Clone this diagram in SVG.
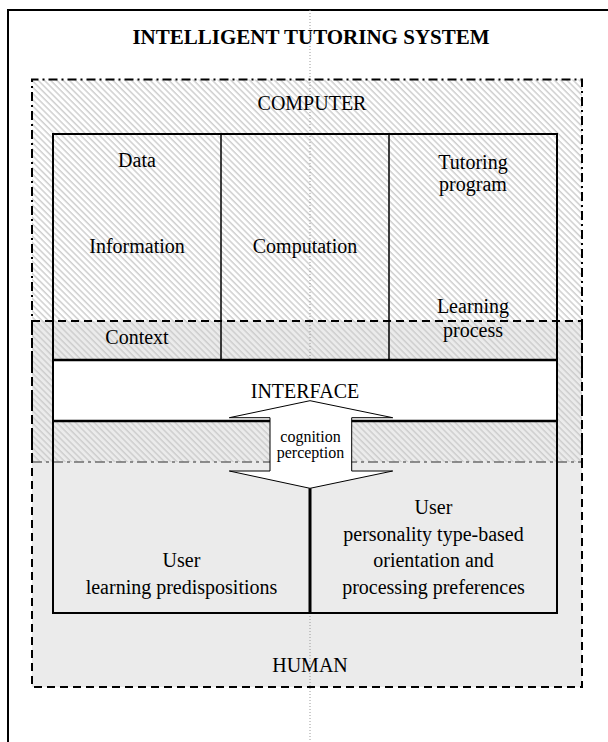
<svg xmlns="http://www.w3.org/2000/svg" width="608" height="742" viewBox="0 0 608 742">
<defs>
<pattern id="hatch" patternUnits="userSpaceOnUse" width="4.4" height="4.4" patternTransform="rotate(-45)">
<line x1="1" y1="0" x2="1" y2="4.4" stroke="#cccccc" stroke-width="1.4"/>
</pattern>
</defs>
<style>
text{font-family:"Liberation Serif","Times New Roman",serif;fill:#000;text-anchor:middle;}
.t20{font-size:20px;}
.t16{font-size:16px;}
.thick{stroke:#000;stroke-width:2;fill:none;}
.thin{stroke:#000;stroke-width:1.5;fill:none;}
.dashdot{stroke:#000;stroke-width:2;fill:none;stroke-dasharray:9 4 2 4;}
.dashed{stroke:#000;stroke-width:2;fill:none;stroke-dasharray:8 5;}
.graydd{stroke:#6e6e6e;stroke-width:1.5;fill:none;stroke-dasharray:10 4 3 4;}
.dotted{stroke:#9a9a9a;stroke-width:1;fill:none;stroke-dasharray:1 2;}
</style>
<rect x="0" y="0" width="608" height="742" fill="#fff"/>
<g id="frame">
<path d="M8,742 V10 H608" stroke="#000" stroke-width="2" fill="none"/>
<text x="311" y="44" style="font-size:21px;font-weight:bold">INTELLIGENT TUTORING SYSTEM</text>
</g>
<g id="human">
<rect x="32" y="321" width="550" height="366" fill="#ebebeb"/>
</g>
<g id="computer">
<rect x="32" y="79.5" width="550" height="382.5" fill="url(#hatch)"/>
</g>
<line class="dotted" x1="310" y1="10" x2="310" y2="742"/>
<g id="interface">
<rect x="53" y="360" width="504" height="61" fill="#fff"/>
</g>
<line class="graydd" x1="32" y1="462" x2="582" y2="462"/>
<g id="connectors">
<polygon points="310,400.7 392.7,417.7 351.7,417.7 351.7,471 392.7,471 310,488.3 229.3,471 270,471 270,417.7 229.3,417.7" fill="#fff" stroke="#000" stroke-width="1"/>
</g>
<g id="computer-border">
<path class="dashdot" d="M32,462 V79.5 H582 V462"/>
<text class="t20" x="312" y="110">COMPUTER</text>
</g>
<g id="human-border">
<path class="dashed" d="M32,321 H582 V687 H32 Z"/>
<text class="t20" x="310" y="672">HUMAN</text>
</g>
<g id="inner-box">
<path class="thick" d="M53,134 H557 V613 H53 Z"/>
<line x1="53" y1="360" x2="557" y2="360" stroke="#000" stroke-width="2.5"/>
<line x1="53" y1="421" x2="270" y2="421" stroke="#000" stroke-width="2.5"/>
<line x1="351.7" y1="421" x2="557" y2="421" stroke="#000" stroke-width="2.5"/>
</g>
<g id="data-column">
<line class="thin" x1="221" y1="134" x2="221" y2="360"/>
<text class="t20" x="137" y="167">Data</text>
<text class="t20" x="137" y="253">Information</text>
<text class="t20" x="137" y="343.5">Context</text>
</g>
<g id="computation">
<text class="t20" x="305" y="253">Computation</text>
</g>
<g id="tutoring-column">
<line class="thin" x1="389" y1="134" x2="389" y2="360"/>
<text class="t20" x="473" y="169">Tutoring</text>
<text class="t20" x="473" y="191">program</text>
<text class="t20" x="473" y="313">Learning</text>
<text class="t20" x="473" y="336.5">process</text>
</g>
<g id="interface-label">
<text class="t20" x="305" y="398">INTERFACE</text>
<text class="t16" x="310.5" y="441.5">cognition</text>
<text class="t16" x="310.5" y="457.5">perception</text>
</g>
<g id="user-left">
<text class="t20" x="181.5" y="567">User</text>
<text class="t20" x="181.5" y="594">learning predispositions</text>
</g>
<g id="user-right">
<line x1="310" y1="488.3" x2="310" y2="613" stroke="#000" stroke-width="3"/>
<text class="t20" x="433.5" y="514">User</text>
<text class="t20" x="433.5" y="541">personality type-based</text>
<text class="t20" x="433.5" y="567">orientation and</text>
<text class="t20" x="433.5" y="594">processing preferences</text>
</g>
</svg>
